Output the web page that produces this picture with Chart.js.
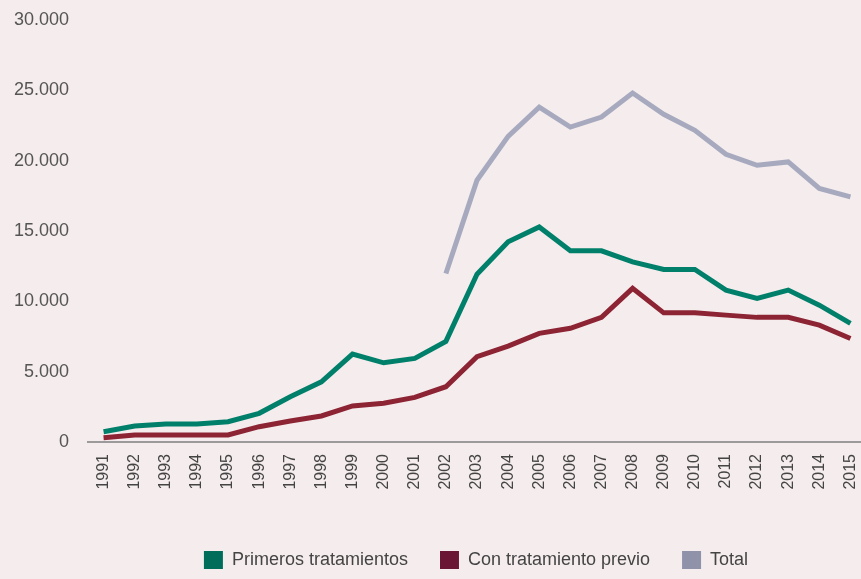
<!DOCTYPE html>
<html>
<head>
<meta charset="utf-8">
<script src="https://cdn.jsdelivr.net/npm/chart.js@4/dist/chart.umd.min.js"></script>
<style>
    html, body { margin: 0; padding: 0; background: #f5eced; overflow: hidden; }
    #wrap { width: 866px; height: 579px; }
</style>
</head>
<body>
<div id="wrap"><canvas id="myChart"></canvas></div>
<script>
const years = ["1991", "1992", "1993", "1994", "1995", "1996", "1997", "1998", "1999", "2000",
    "2001", "2002", "2003", "2004", "2005", "2006", "2007", "2008", "2009", "2010",
    "2011", "2012", "2013", "2014", "2015"];
const primeros = [730, 1130, 1280, 1280, 1440, 2040, 3220, 4280, 6250, 5630,
    5940, 7150, 11930, 14230, 15290, 13590, 13590, 12810, 12270, 12270,
    10800, 10200, 10800, 9730, 8430];
const previo = [310, 500, 500, 500, 500, 1090, 1490, 1850, 2560, 2750,
    3170, 3930, 6070, 6820, 7720, 8080, 8860, 10920, 9180, 9180,
    9020, 8860, 8860, 8310, 7360];
const total = [null, null, null, null, null, null, null, null, null, null,
    null, 11980, 18610, 21730, 23810, 22390, 23100, 24810, 23300, 22160,
    20450, 19670, 19910, 18020, 17420];
const seriesNames = ["Primeros tratamientos", "Con tratamiento previo", "Total"];
const yTicks = [0, 5000, 10000, 15000, 20000, 25000, 30000];

const lineColors = ["#00806a", "#8c2434", "#a7aabf"];
const legendColors = ["#006d5b", "#6a1533", "#8f92a8"];

const fmt = (v) => v.toString().replace(/\B(?=(\d{3})+(?!\d))/g, ".");

// legend sits a bit right of centre in the original
const shiftLegend = {
    id: "shiftLegend",
    afterLayout(chart) {
        chart.legend.left += 43;
        chart.legend.right += 43;
    },
};

const myChart = document.getElementById("myChart");

new Chart(myChart, {
    type: "line",
    data: {
        labels: years,
        datasets: [primeros, previo, total].map((d, i) => ({
            label: seriesNames[i],
            data: d,
            borderColor: lineColors[i],
            backgroundColor: legendColors[i],
            borderWidth: 5,
            pointRadius: 0,
            tension: 0,
            spanGaps: false,
        })),
    },
    plugins: [shiftLegend],
    options: {
        responsive: true,
        maintainAspectRatio: false,
        animation: false,
        layout: {
            padding: { top: 20, bottom: 0 },
        },
        scales: {
            x: {
                offset: true,
                afterFit: (scale) => {
                    scale.height = 77;
                    scale.paddingLeft = 0;
                    scale.paddingRight = 0;
                    scale.paddingTop = 0;
                },
                grid: { display: false, drawTicks: false },
                border: { color: "#9c9a9b", width: 2 },
                ticks: {
                    color: "#444",
                    font: { family: "Liberation Sans", size: 16 },
                    maxRotation: 90,
                    minRotation: 90,
                    padding: 12,
                    autoSkip: false,
                },
            },
            y: {
                min: 0,
                max: 30000,
                afterBuildTicks: (scale) => {
                    scale.ticks = yTicks.map((v) => ({ value: v }));
                },
                afterFit: (scale) => {
                    scale.width = 88;
                    scale.paddingTop = 0;
                    scale.paddingBottom = 0;
                },
                grid: { display: false, drawTicks: false },
                border: { display: false },
                ticks: {
                    color: "#555",
                    font: { family: "Liberation Sans", size: 18 },
                    padding: 19,
                    callback: (v) => fmt(v),
                },
            },
        },
        plugins: {
            tooltip: { enabled: false },
            legend: {
                position: "bottom",
                labels: {
                    boxWidth: 19,
                    boxHeight: 18,
                    padding: 32,
                    color: "#444",
                    font: { family: "Liberation Sans", size: 18 },
                    generateLabels: (chart) =>
                        chart.data.datasets.map((ds, i) => ({
                            text: ds.label,
                            fillStyle: legendColors[i],
                            strokeStyle: legendColors[i],
                            lineWidth: 0,
                            fontColor: "#444",
                            datasetIndex: i,
                        })),
                },
            },
        },
    },
});
</script>
</body>
</html>
